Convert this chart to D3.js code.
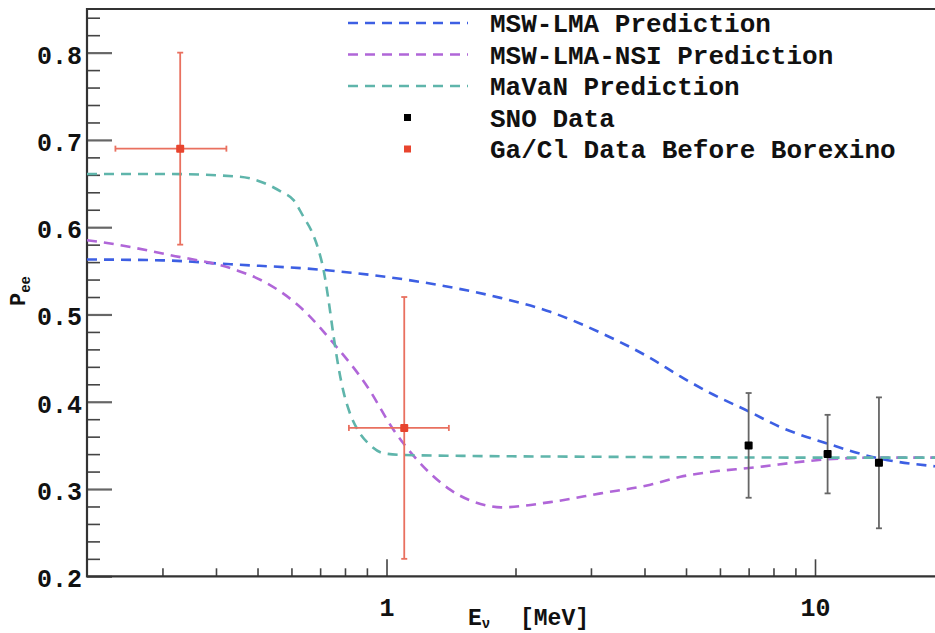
<!DOCTYPE html>
<html>
<head>
<meta charset="utf-8">
<script src="https://cdn.jsdelivr.net/npm/d3@7/dist/d3.min.js"></script>
<style>
  html, body { margin: 0; padding: 0; background: #fff; }
  svg { display: block; }
  text { font-family: "Liberation Mono", "DejaVu Sans Mono", monospace; font-weight: bold; fill: #111; }
</style>
</head>
<body>
<svg id="chart" width="935" height="633"></svg>
<script>
// Survival probability P_ee versus neutrino energy (MeV)

// Model predictions: [energy MeV, Pee]
const mswLma = [
  [0.2, 0.563], [0.3, 0.562], [0.433, 0.5575], [0.713, 0.551], [1.245, 0.536],
  [1.845, 0.519], [2.41, 0.503], [3.16, 0.479], [4.13, 0.450], [4.85, 0.429],
  [5.8, 0.408], [7.0, 0.389], [8.3, 0.371], [10.7, 0.352], [14.1, 0.335],
  [19.1, 0.326], [20, 0.325]
];
const mswLmaNsi = [
  [0.2, 0.585], [0.215, 0.583], [0.313, 0.568], [0.445, 0.551], [0.516, 0.538],
  [0.640, 0.505], [0.752, 0.467], [0.903, 0.417], [1.038, 0.368], [1.181, 0.333],
  [1.41, 0.299], [1.72, 0.281], [1.85, 0.279], [2.41, 0.285], [3.16, 0.295],
  [4.13, 0.305], [4.85, 0.314], [5.8, 0.320], [7.0, 0.324], [10.7, 0.334],
  [14.1, 0.336], [20, 0.336]
];
const mavan = [
  [0.2, 0.661], [0.3, 0.661], [0.451, 0.658], [0.516, 0.651], [0.566, 0.641],
  [0.607, 0.631], [0.640, 0.612], [0.672, 0.593], [0.694, 0.574], [0.713, 0.551],
  [0.732, 0.517], [0.752, 0.476], [0.773, 0.439], [0.794, 0.411], [0.820, 0.388],
  [0.856, 0.368], [0.908, 0.352], [0.984, 0.341], [1.096, 0.339], [1.5, 0.338],
  [3.0, 0.337], [10, 0.336], [20, 0.336]
];

// Measurements: energy, energy half-widths, Pee, Pee error
const snoData = [
  { e: 7.0,  elo: 0, ehi: 0, p: 0.350, dp: 0.060 },
  { e: 10.7, elo: 0, ehi: 0, p: 0.340, dp: 0.045 },
  { e: 14.1, elo: 0, ehi: 0, p: 0.330, dp: 0.075 }
];
const gaClData = [
  { e: 0.33, elo: 0.097, ehi: 0.093, p: 0.69, dp: 0.11 },
  { e: 1.10, elo: 0.283, ehi: 0.298, p: 0.37, dp: 0.15 }
];

// Axis ticks
const xMajorTicks = [1, 10];
const xMinorTicks = [0.3, 0.4, 0.5, 0.6, 0.7, 0.8, 0.9, 2, 3, 4, 5, 6, 7, 8, 9];
const yMajorTicks = [0.2, 0.3, 0.4, 0.5, 0.6, 0.7, 0.8];
const yMinorTicks = d3.range(0.22, 0.851, 0.02).filter(v => !yMajorTicks.some(m => Math.abs(m - v) < 1e-6));

const legendEntries = [
  { label: "MSW-LMA Prediction", kind: "line", color: "#3d5fe3" },
  { label: "MSW-LMA-NSI Prediction", kind: "line", color: "#b066d8" },
  { label: "MaVaN Prediction", kind: "line", color: "#5fb5ab" },
  { label: "SNO Data", kind: "marker", color: "#000000" },
  { label: "Ga/Cl Data Before Borexino", kind: "marker", color: "#e8442e" }
];

const svg = d3.select("#chart");
const plotLeft = 87, plotTop = 9, plotBottom = 576.3;

const x = d3.scaleLog().domain([0.2, 20]).range([plotLeft, plotLeft + 2 * 428.5]);
const y = d3.scaleLinear().domain([0.2, 0.85]).range([plotBottom, plotTop]);

svg.append("defs").append("clipPath").attr("id", "plotArea")
  .append("rect").attr("x", plotLeft).attr("y", plotTop).attr("width", 935 - plotLeft).attr("height", plotBottom - plotTop);

// Axes with inward ticks
const yMajor = svg.append("g").attr("transform", `translate(${plotLeft},0)`)
  .call(d3.axisLeft(y).tickValues(yMajorTicks).tickSizeInner(-25).tickSizeOuter(0).tickPadding(5)
    .tickFormat(d3.format(".1f")));
const yMinor = svg.append("g").attr("transform", `translate(${plotLeft},0)`)
  .call(d3.axisLeft(y).tickValues(yMinorTicks).tickSizeInner(-13).tickSizeOuter(0).tickFormat(""));
const xMajor = svg.append("g").attr("transform", `translate(0,${plotBottom})`)
  .call(d3.axisBottom(x).tickValues(xMajorTicks).tickSizeInner(-17).tickSizeOuter(0).tickPadding(26)
    .tickFormat(d3.format("d")));
const xMinor = svg.append("g").attr("transform", `translate(0,${plotBottom})`)
  .call(d3.axisBottom(x).tickValues(xMinorTicks).tickSizeInner(-8).tickSizeOuter(0).tickFormat(""));

[yMajor, yMinor, xMajor, xMinor].forEach(g => {
  g.select(".domain").remove();
  g.selectAll(".tick line").attr("stroke", "#444").attr("stroke-width", 1.6);
  g.selectAll(".tick text").attr("font-size", 25).attr("font-family", "Liberation Mono").attr("font-weight", "bold").attr("fill", "#111");
});
yMajor.selectAll(".tick line").attr("stroke", "#666").attr("stroke-width", 2.2);
yMajor.selectAll(".tick text").attr("dy", "0.42em");
xMajor.selectAll(".tick text").attr("dy", "0.55em");

// Frame
svg.append("path")
  .attr("d", `M935,${plotTop}H${plotLeft}V${plotBottom}H935`)
  .attr("fill", "none").attr("stroke", "#333").attr("stroke-width", 2.2);

// Axis titles
const xt = svg.append("text").attr("x", 468).attr("y", 625).attr("font-size", 23);
xt.append("tspan").text("E");
xt.append("tspan").attr("font-size", 14).attr("dy", 3).text("ν");
xt.append("tspan").attr("x", 520).attr("dy", -3).text("[MeV]");

const yt = svg.append("text").attr("transform", "translate(25,306) rotate(-90)").attr("font-size", 22);
yt.append("tspan").text("P");
yt.append("tspan").attr("font-size", 14).attr("dy", 5).text("ee");

// Prediction curves
const line = d3.line().x(d => x(d[0])).y(d => y(d[1])).curve(d3.curveMonotoneX);
const curves = svg.append("g").attr("clip-path", "url(#plotArea)");
[[mswLma, legendEntries[0].color], [mswLmaNsi, legendEntries[1].color], [mavan, legendEntries[2].color]]
  .forEach(([data, color]) => {
    curves.append("path").datum(data).attr("d", line)
      .attr("fill", "none").attr("stroke", color).attr("stroke-width", 2.6)
      .attr("stroke-dasharray", "10,7");
  });

// Data points with error bars
function drawPoints(data, barColor, markColor, size, cap) {
  const g = svg.append("g");
  data.forEach(d => {
    const cx = x(d.e), cy = y(d.p);
    g.append("line").attr("x1", cx).attr("x2", cx).attr("y1", y(d.p + d.dp)).attr("y2", y(d.p - d.dp))
      .attr("stroke", barColor).attr("stroke-width", 1.8);
    [d.p + d.dp, d.p - d.dp].forEach(v => {
      g.append("line").attr("x1", cx - cap).attr("x2", cx + cap).attr("y1", y(v)).attr("y2", y(v))
        .attr("stroke", barColor).attr("stroke-width", 1.8);
    });
    if (d.elo > 0 || d.ehi > 0) {
      const x0 = x(d.e - d.elo), x1 = x(d.e + d.ehi);
      g.append("line").attr("x1", x0).attr("x2", x1).attr("y1", cy).attr("y2", cy)
        .attr("stroke", barColor).attr("stroke-width", 1.8);
      [x0, x1].forEach(xx => {
        g.append("line").attr("x1", xx).attr("x2", xx).attr("y1", cy - cap).attr("y2", cy + cap)
          .attr("stroke", barColor).attr("stroke-width", 1.8);
      });
    }
    g.append("rect").attr("x", cx - size / 2).attr("y", cy - size / 2).attr("width", size).attr("height", size)
      .attr("rx", 1).attr("fill", markColor);
  });
}
drawPoints(gaClData, "#e9705f", "#e8442e", 8, 3);
drawPoints(snoData, "#666", "#000", 8, 3);

// Legend
const legend = svg.append("g");
legendEntries.forEach((entry, i) => {
  const ly = 23 + i * 31.5;
  if (entry.kind === "line") {
    legend.append("line").attr("x1", 348).attr("x2", 468).attr("y1", ly).attr("y2", ly)
      .attr("stroke", entry.color).attr("stroke-width", 2.6).attr("stroke-dasharray", "10,7");
  } else {
    legend.append("rect").attr("x", 404).attr("y", ly - 3.5).attr("width", 7).attr("height", 7)
      .attr("fill", entry.color);
  }
  legend.append("text").attr("x", 490).attr("y", ly).attr("dy", "0.36em").attr("font-size", 26)
    .text(entry.label);
});
</script>
</body>
</html>
